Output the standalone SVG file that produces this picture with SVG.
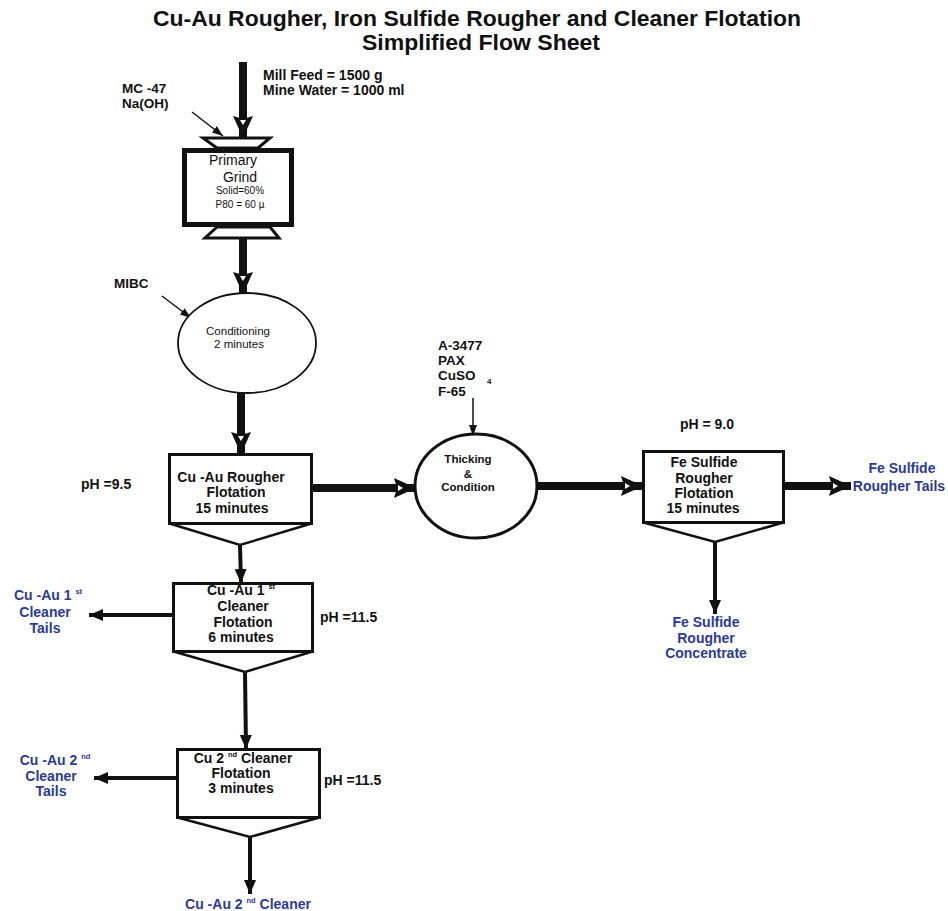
<svg xmlns="http://www.w3.org/2000/svg" width="948" height="911" viewBox="0 0 948 911">
  <style>
    text { font-family: "Liberation Sans", Arial, sans-serif; font-weight: bold; fill: #111; }
    .title { font-size: 22px; text-anchor: middle; }
    .lbl { font-size: 14px; text-anchor: middle; }
    .note { font-size: 14px; }
    .reag { font-size: 13.5px; }
    .out { font-size: 14px; fill: #2b3a96; text-anchor: middle; }
    .sup { font-size: 7.5px; }
    .box { fill: #fff; stroke: #111; stroke-width: 3; }
    .cone { fill: none; stroke: #111; stroke-width: 2.5; stroke-linejoin: miter; }
    .thick { stroke: #111; stroke-width: 8; fill: none; }
    .med { stroke: #111; stroke-width: 4; fill: none; }
    .thin { stroke: #111; stroke-width: 1.5; fill: none; }
    .plain { font-weight: normal; text-anchor: middle; }
  </style>
  <defs>
    <marker id="headThick" markerUnits="userSpaceOnUse" markerWidth="24" markerHeight="24" viewBox="0 0 24 24" refX="22" refY="12" orient="auto">
      <path d="M0,2 L22,12 L0,22 L3,12 Z" fill="#111"/>
      <path d="M4,9 L9,12 L4,15 Z" fill="#fff"/>
    </marker>
    <marker id="headMed" markerUnits="userSpaceOnUse" markerWidth="16" markerHeight="16" viewBox="0 0 16 16" refX="14" refY="8" orient="auto">
      <path d="M0,2 L14,8 L0,14 Z" fill="#111"/>
    </marker>
    <marker id="headThin" markerUnits="userSpaceOnUse" markerWidth="12" markerHeight="12" viewBox="0 0 12 12" refX="11" refY="6" orient="auto">
      <path d="M0,2 L11,6 L0,10 Z" fill="#111"/>
    </marker>
  </defs>

  <rect width="948" height="911" fill="#fff"/>

  <!-- heading -->
  <text class="title" x="477" y="26" textLength="648" lengthAdjust="spacingAndGlyphs">Cu-Au Rougher, Iron Sulfide Rougher and Cleaner Flotation</text>
  <text class="title" x="481" y="50" textLength="238" lengthAdjust="spacingAndGlyphs">Simplified Flow Sheet</text>

  <!-- flow connectors -->
  <g id="connectors">
    <line class="thick" x1="243" y1="62" x2="243" y2="138" marker-end="url(#headThick)"/>
    <line class="thick" x1="243" y1="238" x2="243" y2="294" marker-end="url(#headThick)"/>
    <line class="thick" x1="241" y1="393" x2="241" y2="454" marker-end="url(#headThick)"/>
    <line class="thick" x1="312" y1="488" x2="416" y2="488" marker-end="url(#headThick)"/>
    <line class="thick" x1="537" y1="486" x2="643" y2="486" marker-end="url(#headThick)"/>
    <line class="thick" x1="784" y1="486" x2="851" y2="486" marker-end="url(#headThick)"/>

    <line class="med" x1="240" y1="545" x2="241" y2="583" marker-end="url(#headMed)"/>
    <line class="med" x1="245" y1="672" x2="246" y2="749" marker-end="url(#headMed)"/>
    <line class="med" x1="173" y1="615" x2="89" y2="615" marker-end="url(#headMed)"/>
    <line class="med" x1="177" y1="778" x2="94" y2="778" marker-end="url(#headMed)"/>
    <line class="med" x1="250" y1="837" x2="250" y2="894" marker-end="url(#headMed)"/>
    <line class="med" x1="715" y1="542" x2="715" y2="614" marker-end="url(#headMed)"/>

    <line class="thin" x1="192" y1="112" x2="223" y2="136" marker-end="url(#headThin)"/>
    <line class="thin" x1="162" y1="296" x2="191" y2="318" marker-end="url(#headThin)"/>
    <line class="thin" x1="473" y1="398" x2="473" y2="436" marker-end="url(#headThin)"/>
  </g>

  <!-- feed notes -->
  <g id="feed">
    <text class="note" x="263" y="80">Mill Feed = 1500 g</text>
    <text class="note" x="263" y="95">Mine Water = 1000 ml</text>
  </g>
  <g id="reagents-grind">
    <text class="reag" x="122" y="93">MC -47</text>
    <text class="reag" x="122" y="108">Na(OH)</text>
  </g>

  <!-- grinding mill -->
  <g id="primary-grind">
    <polygon class="box" points="203,138 270,138 258,148 217,148"/>
    <rect x="184.5" y="150.5" width="107" height="74" fill="#fff" stroke="#111" stroke-width="5"/>
    <polygon class="box" points="217,227 270,227 279,238 205,238"/>
    <text class="plain" x="233" y="165" style="font-size:14px">Primary</text>
    <text class="plain" x="240" y="182" style="font-size:14px">Grind</text>
    <text class="plain" x="240" y="194" style="font-size:10px">Solid=60%</text>
    <text class="plain" x="240" y="208" style="font-size:10px">P80 = 60 µ</text>
  </g>

  <g id="reagent-mibc">
    <text class="reag" x="114" y="288">MIBC</text>
  </g>

  <!-- conditioning tank -->
  <g id="conditioning">
    <ellipse cx="247" cy="343" rx="69" ry="50" fill="#fff" stroke="#111" stroke-width="1.8"/>
    <text class="plain" x="238" y="335" style="font-size:11.5px">Conditioning</text>
    <text class="plain" x="239" y="348" style="font-size:11.5px">2 minutes</text>
  </g>

  <!-- copper-gold rougher -->
  <g id="cu-au-rougher">
    <rect class="box" x="169.5" y="454.5" width="142" height="69"/>
    <polyline class="cone" points="169.5,523.5 240,545 311.5,523.5"/>
    <text class="lbl" x="231" y="482">Cu -Au Rougher</text>
    <text class="lbl" x="236" y="497">Flotation</text>
    <text class="lbl" x="232" y="513">15 minutes</text>
  </g>
  <text class="note" x="81" y="489">pH =9.5</text>

  <!-- first cleaner -->
  <g id="cu-au-cleaner-1">
    <rect class="box" x="173.5" y="583.5" width="139" height="68"/>
    <polyline class="cone" points="173.5,651.5 245,672 312.5,651.5"/>
    <text class="lbl" x="241" y="595">Cu -Au  1 <tspan class="sup" dy="-6">st</tspan></text>
    <text class="lbl" x="243" y="611">Cleaner</text>
    <text class="lbl" x="243" y="627">Flotation</text>
    <text class="lbl" x="241" y="642">6 minutes</text>
  </g>
  <text class="note" x="320" y="622">pH =11.5</text>
  <g id="cleaner-1-tails">
    <text class="out" x="48" y="600">Cu -Au 1 <tspan class="sup" dy="-6">st</tspan></text>
    <text class="out" x="45" y="617">Cleaner</text>
    <text class="out" x="45" y="633">Tails</text>
  </g>

  <!-- second cleaner -->
  <g id="cu-au-cleaner-2">
    <rect class="box" x="177.5" y="749.5" width="142" height="68"/>
    <polyline class="cone" points="177.5,817.5 250,837 319.5,817.5"/>
    <text class="lbl" x="243" y="763">Cu 2 <tspan class="sup" dy="-6">nd</tspan><tspan dy="6">  Cleaner</tspan></text>
    <text class="lbl" x="241" y="778">Flotation</text>
    <text class="lbl" x="241" y="793">3 minutes</text>
  </g>
  <text class="note" x="324" y="785">pH =11.5</text>
  <g id="cleaner-2-tails">
    <text class="out" x="55" y="765">Cu -Au 2 <tspan class="sup" dy="-6">nd</tspan></text>
    <text class="out" x="51" y="781">Cleaner</text>
    <text class="out" x="51" y="796">Tails</text>
  </g>
  <g id="cleaner-2-concentrate">
    <text class="out" x="248" y="909">Cu -Au 2 <tspan class="sup" dy="-6">nd</tspan><tspan dy="6">  Cleaner</tspan></text>
  </g>

  <!-- reagents for iron sulfide circuit -->
  <g id="reagents-fe">
    <text class="reag" x="438" y="350">A-3477</text>
    <text class="reag" x="438" y="365">PAX</text>
    <text class="reag" x="438" y="380">CuSO</text>
    <text x="487" y="384" style="font-size:8px">4</text>
    <text class="reag" x="438" y="396">F-65</text>
  </g>

  <!-- thickening and conditioning -->
  <g id="thickening">
    <ellipse cx="476" cy="486" rx="61" ry="52" fill="#fff" stroke="#111" stroke-width="3"/>
    <text x="468" y="463" text-anchor="middle" style="font-size:11.5px">Thicking</text>
    <text x="468" y="478" text-anchor="middle" style="font-size:11.5px">&amp;</text>
    <text x="468" y="491" text-anchor="middle" style="font-size:11.5px">Condition</text>
  </g>

  <!-- iron sulfide rougher -->
  <g id="fe-sulfide-rougher">
    <rect class="box" x="643.5" y="451.5" width="140" height="71"/>
    <polyline class="cone" points="643.5,522.5 715,542 783.5,522.5"/>
    <text class="lbl" x="704" y="467">Fe Sulfide</text>
    <text class="lbl" x="704" y="483">Rougher</text>
    <text class="lbl" x="704" y="498">Flotation</text>
    <text class="lbl" x="703" y="513">15 minutes</text>
  </g>
  <text class="note" x="707" y="429" text-anchor="middle">pH = 9.0</text>
  <g id="fe-rougher-tails">
    <text class="out" x="902" y="473">Fe Sulfide</text>
    <text class="out" x="899" y="491">Rougher Tails</text>
  </g>
  <g id="fe-rougher-concentrate">
    <text class="out" x="706" y="627">Fe Sulfide</text>
    <text class="out" x="706" y="643">Rougher</text>
    <text class="out" x="706" y="658">Concentrate</text>
  </g>
</svg>
